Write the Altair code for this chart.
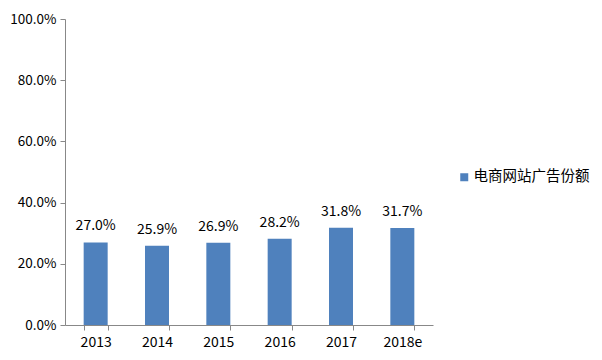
import altair as alt
import pandas as pd

years = ["2013", "2014", "2015", "2016", "2017", "2018e"]
shares = [0.270, 0.259, 0.269, 0.282, 0.318, 0.317]
series = ["电商网站广告份额"] * len(years)

df = pd.DataFrame({"year": years, "share": shares, "series": series})

FONT = "Noto Sans CJK SC"

base = alt.Chart(df).encode(
    x=alt.X("year:N", sort=years, title=None,
            scale=alt.Scale(paddingInner=0.61, paddingOuter=0.305),
            axis=alt.Axis(labelAngle=0, tickBand="extent", domainColor="#888888",
                          tickColor="#888888", tickSize=5, labelPadding=5,
                          labelFontSize=14, labelColor="#000000", labelFont=FONT)),
)

bars = base.mark_bar(size=24, color="#4F81BD").encode(
    y=alt.Y("share:Q", title=None,
            scale=alt.Scale(domain=[0, 1], nice=False),
            axis=alt.Axis(format=".1%", values=[0, 0.2, 0.4, 0.6, 0.8, 1.0], grid=False,
                          domainColor="#888888", tickColor="#888888", tickSize=5,
                          labelFontSize=13.5, labelColor="#000000", labelFont=FONT,
                          labelPadding=4)),
    color=alt.Color("series:N", scale=alt.Scale(range=["#4F81BD"]), title=None,
                    legend=alt.Legend(orient="none", legendX=392, legendY=151,
                                      symbolType="square", symbolSize=64,
                                      symbolStrokeWidth=0, labelOffset=2,
                                      labelFontSize=14.5, labelFont=FONT,
                                      labelColor="#000000", labelLimit=300)),
)

labels = base.mark_text(baseline="bottom", dy=-9, fontSize=14, font=FONT, color="#000000").encode(
    y=alt.Y("share:Q"),
    text=alt.Text("share:Q", format=".1%"),
)

chart = (bars + labels).properties(
    width=368, height=306,
    background="white",
    autosize=alt.AutoSizeParams(type="none"),
    padding={"left": 57, "top": 11, "right": 161, "bottom": 27},
).configure_view(stroke=None)

chart.save("out.html", embed_options={"renderer": "svg", "actions": False})
